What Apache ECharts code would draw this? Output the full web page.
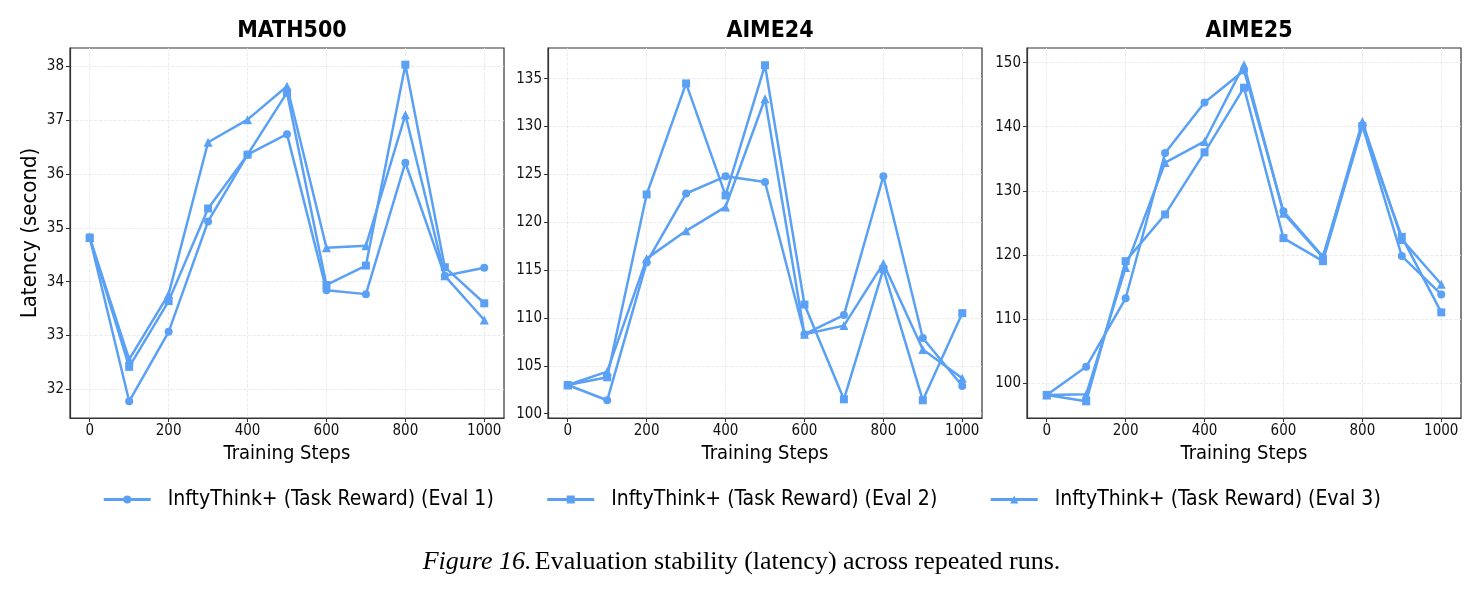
<!DOCTYPE html>
<html>
<head>
<meta charset="utf-8">
<script src="https://cdn.jsdelivr.net/npm/echarts@6/dist/echarts.min.js"></script>
<style>
  html, body { margin: 0; padding: 0; background: #fff; }
  #main { width: 1483px; height: 594px; }
</style>
</head>
<body>
<div id="main"></div>
<script>
var steps = [0, 100, 200, 300, 400, 500, 600, 700, 800, 900, 1000];
var panelTitles = ['MATH500', 'AIME24', 'AIME25'];
var evalNames = ['InftyThink+ (Task Reward) (Eval 1)', 'InftyThink+ (Task Reward) (Eval 2)', 'InftyThink+ (Task Reward) (Eval 3)'];

// MATH500
var math500Eval1 = [34.82, 31.78, 33.07, 35.12, 36.36, 36.74, 33.84, 33.77, 36.21, 34.11, 34.26];
var math500Eval2 = [34.82, 32.42, 33.64, 35.36, 36.36, 37.51, 33.94, 34.30, 38.03, 34.27, 33.60];
var math500Eval3 = [34.82, 32.56, 33.77, 36.59, 37.01, 37.63, 34.63, 34.67, 37.10, 34.11, 33.29];
// AIME24
var aime24Eval1 = [103.0, 101.4, 115.8, 123.0, 124.8, 124.2, 108.3, 110.3, 124.8, 107.9, 102.9];
var aime24Eval2 = [103.0, 103.8, 122.9, 134.5, 122.8, 136.4, 111.4, 101.5, 115.1, 101.4, 110.5];
var aime24Eval3 = [103.0, 104.4, 116.2, 119.1, 121.6, 132.9, 108.3, 109.2, 115.7, 106.7, 103.7];
// AIME25
var aime25Eval1 = [98.1, 102.5, 113.2, 135.9, 143.8, 148.8, 126.8, 119.7, 140.2, 119.8, 113.8];
var aime25Eval2 = [98.1, 97.1, 119.0, 126.3, 136.0, 146.1, 122.6, 119.0, 140.1, 122.8, 111.0];
var aime25Eval3 = [98.1, 98.2, 118.0, 134.4, 137.7, 149.7, 126.5, 119.6, 140.8, 122.4, 115.4];

var yRanges = [[31.47, 38.34], [99.55, 138.2], [94.5, 152.3]];
var ySplits = [5, 7, 5];

var panelData = [
    [math500Eval1, math500Eval2, math500Eval3],
    [aime24Eval1, aime24Eval2, aime24Eval3],
    [aime25Eval1, aime25Eval2, aime25Eval3]
];

var color = '#5aa0f5';
var font = 'DejaVu Sans Condensed';
var symbols = ['circle', 'rect', 'triangle'];
var symbolSizes = [8, 8, 9];
var gridLefts = [70, 548, 1027];
var gridWidth = 434;

var chart = echarts.init(document.getElementById('main'));

var grids = [], xAxes = [], yAxes = [], series = [], titles = [];
for (var p = 0; p < 3; p++) {
    grids.push({
        left: gridLefts[p], top: 48, width: gridWidth, height: 370,
        show: true, borderColor: '#333', borderWidth: 1.2, backgroundColor: 'transparent'
    });
    titles.push({
        text: panelTitles[p],
        left: gridLefts[p] + gridWidth / 2,
        top: 15,
        textAlign: 'center',
        textStyle: { fontFamily: font, fontSize: 23, fontWeight: 'bold', color: '#000' }
    });
    xAxes.push({
        type: 'value', gridIndex: p, min: -50, max: 1050, splitNumber: 5,
        name: 'Training Steps', nameLocation: 'middle', nameGap: 26,
        nameTextStyle: { fontFamily: font, fontSize: 20, color: '#000' },
        axisLine: { onZero: false, lineStyle: { color: '#333', width: 1.2 } },
        axisTick: { length: 4, lineStyle: { color: '#333' } },
        axisLabel: {
            fontFamily: font, fontSize: 15, color: '#111', showMinLabel: false, showMaxLabel: false, margin: 6,
            formatter: function (v) { return String(v); }
        },
        splitLine: { show: true, showMinLine: false, showMaxLine: false, lineStyle: { color: '#e6e6e6', type: 'dashed', width: 0.8 } }
    });
    yAxes.push({
        type: 'value', gridIndex: p, min: yRanges[p][0], max: yRanges[p][1], splitNumber: ySplits[p],
        name: p === 0 ? 'Latency (second)' : '', nameLocation: 'middle', nameGap: 29,
        nameTextStyle: { fontFamily: font, fontSize: 22, color: '#000' },
        axisLine: { show: true, onZero: false, lineStyle: { color: '#333', width: 1.2 } },
        axisTick: { show: true, length: 4, lineStyle: { color: '#333' } },
        axisLabel: {
            fontFamily: font, fontSize: 15, color: '#111', showMinLabel: false, showMaxLabel: false, margin: 6,
            formatter: function (v) { return String(v); }
        },
        splitLine: { show: true, showMinLine: false, showMaxLine: false, lineStyle: { color: '#e6e6e6', type: 'dashed', width: 0.8 } }
    });
    for (var e = 0; e < 3; e++) {
        var pts = [];
        for (var i = 0; i < steps.length; i++) pts.push([steps[i], panelData[p][e][i]]);
        series.push({
            name: evalNames[e], type: 'line', xAxisIndex: p, yAxisIndex: p,
            data: pts, symbol: symbols[e], symbolSize: symbolSizes[e], showSymbol: true,
            lineStyle: { color: color, width: 2.5 },
            itemStyle: { color: color },
            emphasis: { disabled: true },
            animation: false
        });
    }
}

var option = {
    animation: false,
    title: titles,
    grid: grids,
    xAxis: xAxes,
    yAxis: yAxes,
    legend: {
        data: evalNames,
        top: 484,
        left: 'center',
        itemWidth: 47,
        itemHeight: 10,
        itemGap: 52,
        itemStyle: { borderWidth: 0 },
        lineStyle: { width: 3 },
        textStyle: { fontFamily: font, fontSize: 21, color: '#000', padding: [0, 0, 0, 12] }
    },
    graphic: [{
        type: 'text',
        left: 'center',
        top: 549,
        style: {
            text: '{i|Figure 16.} {n|Evaluation stability (latency) across repeated runs.}',
            rich: {
                i: { fontFamily: 'Liberation Serif', fontStyle: 'italic', fontSize: 26, fill: '#000' },
                n: { fontFamily: 'Liberation Serif', fontSize: 26, fill: '#000' }
            }
        }
    }],
    series: series
};
chart.setOption(option);
window.onresize = chart.resize;
</script>
</body>
</html>
